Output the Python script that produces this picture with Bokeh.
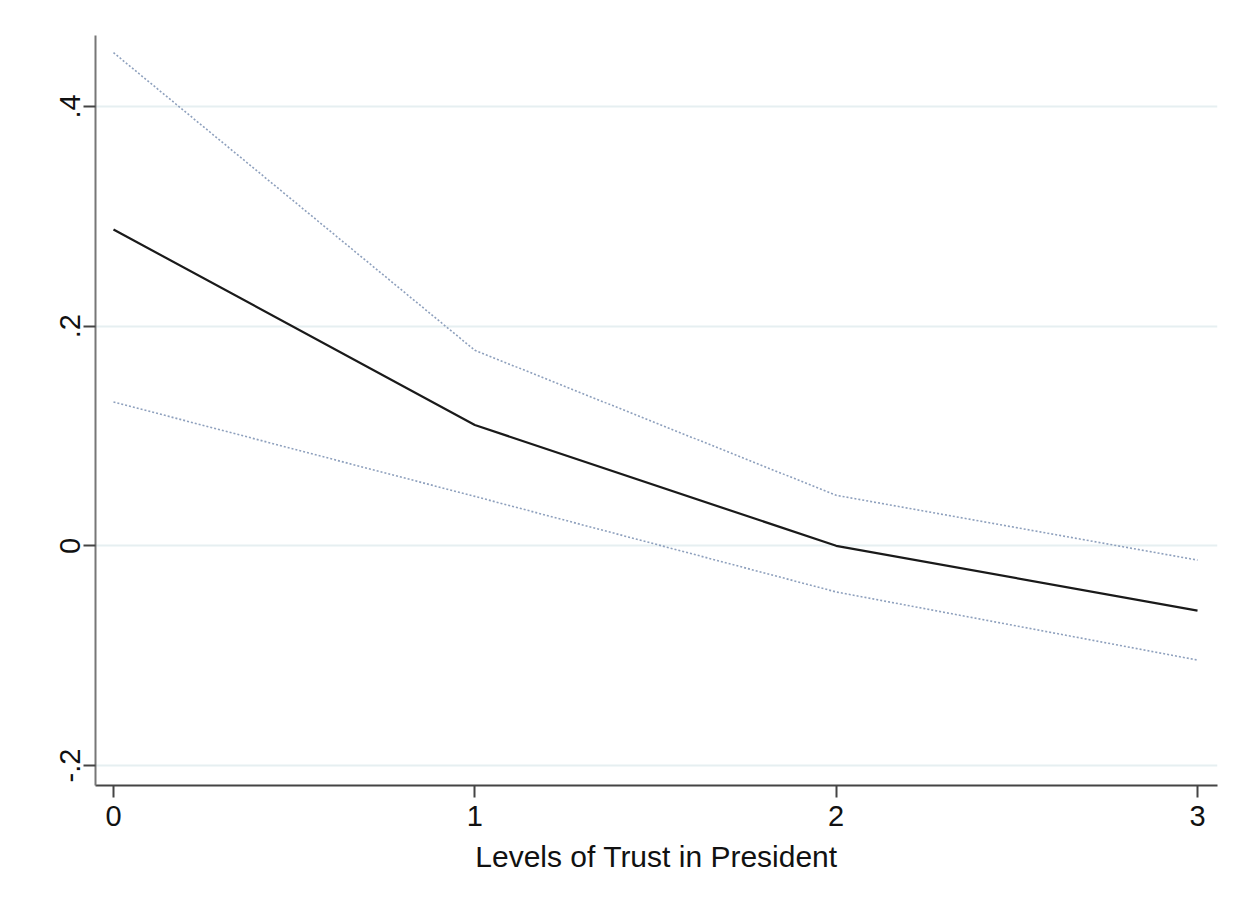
from bokeh.plotting import figure
from bokeh.models import FixedTicker, Range1d
from bokeh.embed import file_html
from bokeh.resources import INLINE

# Data
trust_levels = [0, 1, 2, 3]
estimate = [0.288, 0.110, 0.0, -0.059]
upper_ci = [0.449, 0.178, 0.046, -0.013]
lower_ci = [0.131, 0.045, -0.042, -0.104]

x_ticks = [0, 1, 2, 3]
y_ticks = [-0.2, 0.0, 0.2, 0.4]
y_tick_labels = {-0.2: "-.2", 0.0: "0", 0.2: ".2", 0.4: ".4"}
x_label = "Levels of Trust in President"

FONT = "Liberation Sans"

p = figure(width=1240, height=899, output_backend="svg", toolbar_location=None,
           x_range=Range1d(-0.0498, 3.0553), y_range=Range1d(-0.2182, 0.4646),
           min_border_left=95, min_border_right=23, min_border_top=35, min_border_bottom=114)
p.outline_line_color = None
p.background_fill_color = "white"
p.border_fill_color = "white"

# grid
p.xgrid.grid_line_color = None
p.ygrid.grid_line_color = "#e6eff1"
p.ygrid.grid_line_width = 2
p.yaxis.ticker = FixedTicker(ticks=y_ticks)
p.xaxis.ticker = FixedTicker(ticks=x_ticks)
p.yaxis.major_label_overrides = y_tick_labels
p.yaxis.major_label_orientation = "vertical"
p.xaxis.axis_label = x_label

for ax in (p.xaxis[0], p.yaxis[0]):
    ax.major_label_text_font = FONT
    ax.major_label_text_font_size = "29px"
    ax.major_label_text_color = "#111111"
    ax.major_tick_in = 0
    ax.major_tick_out = 12
    ax.major_tick_line_width = 2
    ax.minor_tick_line_color = None
    ax.axis_line_width = 2

p.yaxis.axis_line_color = "#777777"
p.yaxis.major_tick_line_color = "#444444"
p.xaxis.axis_line_color = "#444444"
p.xaxis.major_tick_line_color = "#444444"
p.yaxis.major_label_standoff = 3
p.xaxis.major_label_standoff = 8
p.xaxis.axis_label_text_font = FONT
p.xaxis.axis_label_text_font_size = "30px"
p.xaxis.axis_label_text_font_style = "normal"
p.xaxis.axis_label_text_color = "#111111"
p.xaxis.axis_label_standoff = 11

p.line(trust_levels, upper_ci, line_color="#8ea0bd", line_width=1.6, line_dash="2 2")
p.line(trust_levels, lower_ci, line_color="#8ea0bd", line_width=1.6, line_dash="2 2")
p.line(trust_levels, estimate, line_color="#1a1a1a", line_width=2.2)

open("out.html", "w").write(file_html(p, INLINE))
